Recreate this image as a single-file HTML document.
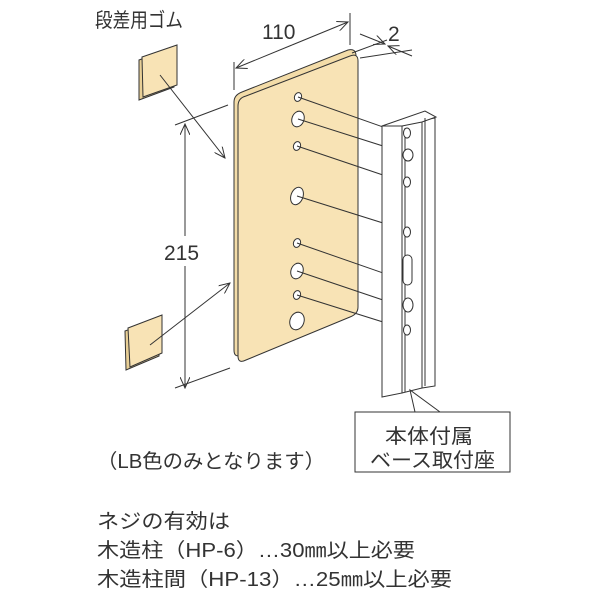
<!DOCTYPE html>
<html><head><meta charset="utf-8"><style>html,body{margin:0;padding:0;background:#fff}svg{display:block}</style></head>
<body>
<svg width="600" height="600" viewBox="0 0 600 600" xmlns="http://www.w3.org/2000/svg" font-family="'Liberation Sans','Noto Sans CJK JP',sans-serif" fill="#333">
<defs>
<marker id="a" markerWidth="12" markerHeight="10" refX="11" refY="5" orient="auto" markerUnits="userSpaceOnUse"><path d="M0,0 L11,5 L0,10" fill="none" stroke="#333" stroke-width="1"/></marker>
</defs>
<g stroke="#333" stroke-width="1" fill="none">
<path d="M234,102 Q234,95 242,92 L348,50 Q356,48 356,56 L356,305 L241,355 Q234,358 234,350 Z" fill="#f3dca8"/>
<path d="M238,106 Q238,98 246,96 L350,56 Q358,53 358,61 L358,307 Q358,314 350,317 L246,360 Q238,364 238,356 Z" fill="#f8e3b5"/>
<ellipse cx="298" cy="97" rx="3.5" ry="4.5" fill="#fff" transform="rotate(20 298 97)"/>
<ellipse cx="298" cy="119" rx="6" ry="8" fill="#fff" transform="rotate(20 298 119)"/>
<ellipse cx="297" cy="146" rx="3.5" ry="4.5" fill="#fff" transform="rotate(20 297 146)"/>
<ellipse cx="297" cy="196" rx="6" ry="9" fill="#fff" transform="rotate(20 297 196)"/>
<ellipse cx="297" cy="243" rx="3.5" ry="4.5" fill="#fff" transform="rotate(20 297 243)"/>
<ellipse cx="297" cy="271" rx="6" ry="8" fill="#fff" transform="rotate(20 297 271)"/>
<ellipse cx="297" cy="295" rx="3.5" ry="4.5" fill="#fff" transform="rotate(20 297 295)"/>
<ellipse cx="297" cy="321" rx="7" ry="9" fill="#fff" transform="rotate(20 297 321)"/>
<path d="M298,97 L383,127 M298,119 L383,146 M297,146 L383,175 M297,196 L383,223 M297,243 L383,273 M297,271 L383,300 M297,295 L383,322"/>
<path d="M382,126 L382,397 L402,393 L402,126 Z" fill="#fff"/>
<path d="M402,126 L402,393 L422,388 L422,120 Z" fill="#fff"/>
<path d="M422,120 L422,388 L435,386 L435,118 Z" fill="#fff"/>
<path d="M382,126 L425,111 L436,117 L422,122 L402,126 Z" fill="#fff"/>
<path d="M405,128 L405,392 M425,118 L425,386"/>
<ellipse cx="407" cy="133" rx="3.5" ry="5" fill="#fff"/>
<ellipse cx="408" cy="155" rx="5" ry="6" fill="#fff"/>
<ellipse cx="407" cy="182" rx="3.5" ry="5" fill="#fff"/>
<ellipse cx="407" cy="232" rx="3.5" ry="5" fill="#fff"/>
<rect x="403" y="255" width="9" height="30" rx="4.5" fill="#fff"/>
<ellipse cx="408" cy="305" rx="5" ry="7" fill="#fff"/>
<ellipse cx="407" cy="330" rx="3.5" ry="5" fill="#fff"/>
<path d="M415,412 L410,390 L440,412"/>
<rect x="355" y="412" width="155" height="60" fill="#fff"/>
<path d="M139,60 L174,47 L174,87 L139,100 Z" fill="#e8cf96"/>
<path d="M142,57 L177,45 L177,85 L143,97 Z" fill="#f8e3b5"/>
<path d="M125,331 L159,318 L159,356 L126,370 Z" fill="#e8cf96"/>
<path d="M128,328 L162,315 L162,353 L130,367 Z" fill="#f8e3b5"/>
<path d="M160,75 L225,158" marker-end="url(#a)"/>
<path d="M150,345 L230,283" marker-end="url(#a)"/>
<path d="M234,62 L234,90 M350,13 L350,45"/>
<path d="M292,45 L236,68" marker-end="url(#a)"/>
<path d="M292,45 L348,22" marker-end="url(#a)"/>
<path d="M352,53 L387,40 M360,58 L412,50"/>
<path d="M360,34 L385,44" marker-end="url(#a)"/>
<path d="M412,56 L388,46" marker-end="url(#a)"/>
<path d="M175,125 L228,105 M175,388 L230,368"/>
<path d="M185,250 L185,124" marker-end="url(#a)"/>
<path d="M185,250 L185,388" marker-end="url(#a)"/>
</g>
<rect x="160" y="236" width="52" height="30" fill="#fff"/>
<g font-size="20" fill="#333">
<text x="95" y="27" textLength="88" lengthAdjust="spacingAndGlyphs">段差用ゴム</text>
<text x="262" y="39" font-size="21">110</text>
<text x="388" y="41" font-size="21">2</text>
<text x="164" y="260" font-size="21">215</text>
<text x="385" y="443" textLength="88" lengthAdjust="spacingAndGlyphs">本体付属</text>
<text x="370" y="467" textLength="125" lengthAdjust="spacingAndGlyphs">ベース取付座</text>
<text x="97" y="468" textLength="228" lengthAdjust="spacingAndGlyphs">（LB色のみとなります）</text>
<text x="97" y="528" textLength="133" lengthAdjust="spacingAndGlyphs">ネジの有効は</text>
<text x="97" y="557" textLength="318" lengthAdjust="spacingAndGlyphs">木造柱（HP-6）…30㎜以上必要</text>
<text x="97" y="586" textLength="355" lengthAdjust="spacingAndGlyphs">木造柱間（HP-13）…25㎜以上必要</text>
</g>
</svg>
</body></html>
